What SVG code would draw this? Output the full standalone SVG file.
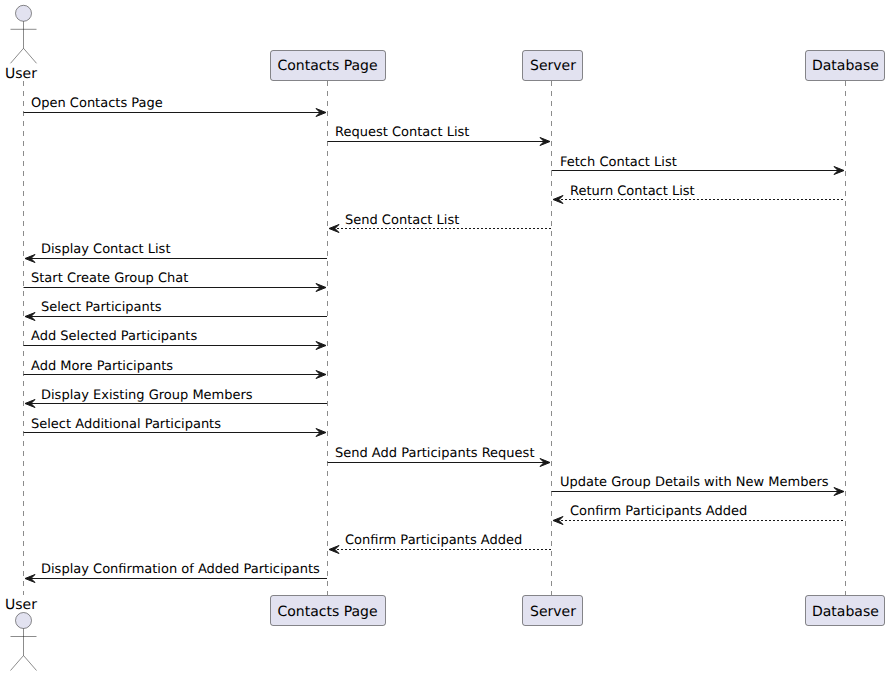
<svg xmlns="http://www.w3.org/2000/svg" width="890" height="676" viewBox="0 0 890 676">
<style>
text{font-family:"DejaVu Sans",sans-serif;fill:#000;text-rendering:geometricPrecision}
.m{font-size:13px}
.p{font-size:14px}
.box{fill:#E2E2F0;stroke:#181818;stroke-width:.5}
.life{stroke:#181818;stroke-width:.5;stroke-dasharray:5,5;fill:none}
.msg{stroke:#181818;stroke-width:1;fill:none}
.dash{stroke-dasharray:2,2}
.head{fill:#181818;stroke:#181818}
</style>
<defs>
<g id="actor" class="box"><circle cx="23.5" cy="0" r="8"/><path d="M23.500 8V35M10.500 16H36.500M23.500 35L10.500 50M23.500 35L36.500 50" fill="none"/></g>
</defs>
<g id="lifelines">
<line class="life" x1="23.5" y1="81" x2="23.5" y2="595"/>
<line class="life" x1="327.5" y1="81" x2="327.5" y2="595"/>
<line class="life" x1="551.5" y1="81" x2="551.5" y2="595"/>
<line class="life" x1="845.5" y1="81" x2="845.5" y2="595"/>
</g>
<g id="user-top"><use href="#actor" y="13.300"/><text class="p" x="5" y="78.300">User</text></g>
<g id="contacts-top"><rect class="box" x="270.500" y="50.500" width="115" height="30" rx="2.500"/><text class="p" x="277.500" y="70">Contacts Page</text></g>
<g id="server-top"><rect class="box" x="522.500" y="50.500" width="60" height="30" rx="2.500"/><text class="p" x="530" y="70">Server</text></g>
<g id="database-top"><rect class="box" x="805.500" y="50.500" width="79" height="30" rx="2.500"/><text class="p" x="812" y="70">Database</text></g>
<g id="user-bottom"><text class="p" x="5" y="609">User</text><use href="#actor" y="620.500"/></g>
<g id="contacts-bottom"><rect class="box" x="270.500" y="595.500" width="115" height="30" rx="2.500"/><text class="p" x="277.500" y="616">Contacts Page</text></g>
<g id="server-bottom"><rect class="box" x="522.500" y="595.500" width="60" height="30" rx="2.500"/><text class="p" x="530" y="616">Server</text></g>
<g id="database-bottom"><rect class="box" x="805.500" y="595.500" width="79" height="30" rx="2.500"/><text class="p" x="812" y="616">Database</text></g>
<g id="connectors">
<line class="msg" x1="23.5" y1="112.5" x2="322" y2="112.5"/><polygon class="head" points="316,108.5 326,112.5 316,116.500 320,112.5"/>
<line class="msg" x1="327.5" y1="141.5" x2="546" y2="141.5"/><polygon class="head" points="540,137.5 550,141.5 540,145.5 544,141.5"/>
<line class="msg" x1="551.5" y1="170.5" x2="840" y2="170.5"/><polygon class="head" points="834,166.5 844,170.500 834,174.5 838,170.5"/>
<line class="msg dash" x1="557" y1="199.5" x2="845" y2="199.5"/><polygon class="head" points="563,195.500 553,199.5 563,203.5 559,199.5"/>
<line class="msg dash" x1="333" y1="228.5" x2="551" y2="228.5"/><polygon class="head" points="339,224.5 329,228.5 339,232.5 335,228.5"/>
<line class="msg" x1="29" y1="258.5" x2="327" y2="258.5"/><polygon class="head" points="35,254.5 25,258.5 35,262.5 31,258.5"/>
<line class="msg" x1="23.5" y1="287.5" x2="322" y2="287.5"/><polygon class="head" points="316,283.5 326,287.5 316,291.5 320,287.5"/>
<line class="msg" x1="29" y1="316.5" x2="327" y2="316.5"/><polygon class="head" points="35,312.5 25,316.5 35,320.5 31,316.5"/>
<line class="msg" x1="23.5" y1="345.5" x2="322" y2="345.5"/><polygon class="head" points="316,341.5 326,345.5 316,349.5 320,345.5"/>
<line class="msg" x1="23.5" y1="374.5" x2="322" y2="374.5"/><polygon class="head" points="316,370.5 326,374.5 316,378.5 320,374.5"/>
<line class="msg" x1="29" y1="403.5" x2="327" y2="403.5"/><polygon class="head" points="35,399.5 25,403.5 35,407.5 31,403.5"/>
<line class="msg" x1="23.5" y1="432.5" x2="322" y2="432.5"/><polygon class="head" points="316,428.5 326,432.5 316,436.5 320,432.5"/>
<line class="msg" x1="327.5" y1="462.5" x2="546" y2="462.5"/><polygon class="head" points="540,458.5 550,462.5 540,466.5 544,462.5"/>
<line class="msg" x1="551.5" y1="491.5" x2="840" y2="491.5"/><polygon class="head" points="834,487.5 844,491.5 834,495.5 838,491.5"/>
<line class="msg dash" x1="557" y1="520.5" x2="845" y2="520.5"/><polygon class="head" points="563,516.5 553,520.5 563,524.5 559,520.5"/>
<line class="msg dash" x1="333" y1="549.5" x2="551" y2="549.5"/><polygon class="head" points="339,545.5 329,549.5 339,553.5 335,549.5"/>
<line class="msg" x1="29" y1="578.5" x2="327" y2="578.500"/><polygon class="head" points="35,574.5 25,578.5 35,582.5 31,578.5"/>
</g>
<g id="labels" class="m">
<text x="31" y="107.400">Open Contacts Page</text>
<text x="335" y="136.400">Request Contact List</text>
<text x="560" y="165.700">Fetch Contact List</text>
<text x="570" y="194.800">Return Contact List</text>
<text x="345" y="223.900">Send Contact List</text>
<text x="41" y="253.100">Display Contact List</text>
<text x="31" y="282.200">Start Create Group Chat</text>
<text x="41" y="311.300">Select Participants</text>
<text x="31" y="340.400">Add Selected Participants</text>
<text x="31" y="369.600">Add More Participants</text>
<text x="41" y="398.700">Display Existing Group Members</text>
<text x="31" y="427.800">Select Additional Participants</text>
<text x="335" y="457">Send Add Participants Request</text>
<text x="560" y="486.100">Update Group Details with New Members</text>
<text x="570" y="515.200">Confirm Participants Added</text>
<text x="345" y="544.400">Confirm Participants Added</text>
<text x="41" y="573.300">Display Confirmation of Added Participants</text>
</g>
</svg>
